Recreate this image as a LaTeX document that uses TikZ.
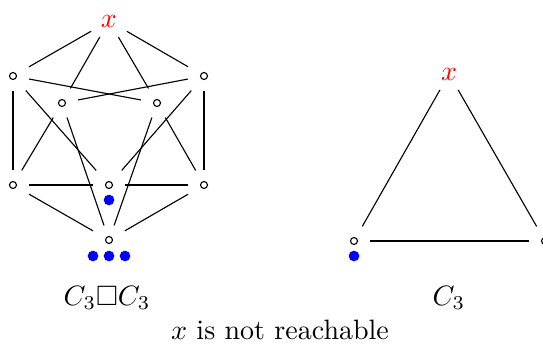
\documentclass[tikz,border=0pt]{standalone}
\usepackage{amssymb}
\begin{document}
\begin{tikzpicture}[x=0.357pt,y=-0.357pt,
  vtx/.style={minimum width=11pt,minimum height=10pt,inner sep=0pt},
  xlab/.style={text=red,inner sep=0.333em},
  edge/.style={line width=0.4pt},
  ring/.style={line width=0.4pt},
  bdot/.style={circle,fill=blue,inner sep=0pt,minimum size=3.8pt}]
\useasboundingbox (0,0) rectangle (543,345);
% left graph C3 x C3
\node[xlab] (X) at (109,21) {$x$};
\node[vtx] (A) at (13,76) {};
\node[vtx] (B) at (204,76) {};
\node[vtx] (C) at (62,103) {};
\node[vtx] (D) at (157,103) {};
\node[vtx] (E) at (13,185) {};
\node[vtx] (F) at (109,185) {};
\node[vtx] (G) at (204,185) {};
\node[vtx] (H) at (109,240) {};
\foreach \n in {A,B,C,D,E,F,G,H} \draw[ring] (\n.center) circle (1.25pt);
\foreach \a/\b in {X/A,X/B,X/C,X/D,A/D,B/C,A/E,B/G,A/F,B/F,C/E,D/G,C/H,D/H,E/F,F/G,E/H,G/H}
  \draw[edge] (\a) -- (\b);
\node[bdot] (d1) at (109,200) {};
\node[bdot] (d2) at (93,256) {};
\node[bdot] (d3) at (109,256) {};
\node[bdot] (d4) at (125,256) {};
% right graph C3
\node[xlab] (Y) at (449,74) {$x$};
\node[vtx] (L) at (354,241) {};
\node[vtx] (R) at (545,241) {};
\foreach \n in {L,R} \draw[ring] (\n.center) circle (1.25pt);
\draw[edge] (Y) -- (L);
\draw[edge] (Y) -- (R);
\draw[edge] (L) -- (R);
\node[bdot] (d5) at (354,256) {};
% labels
\node (l1) at (107,298) {$C_3\Box C_3$};
\node (l2) at (449,298) {$C_3$};
\node (l3) at (280,330) {$x$ is not reachable};
\end{tikzpicture}
\end{document}
